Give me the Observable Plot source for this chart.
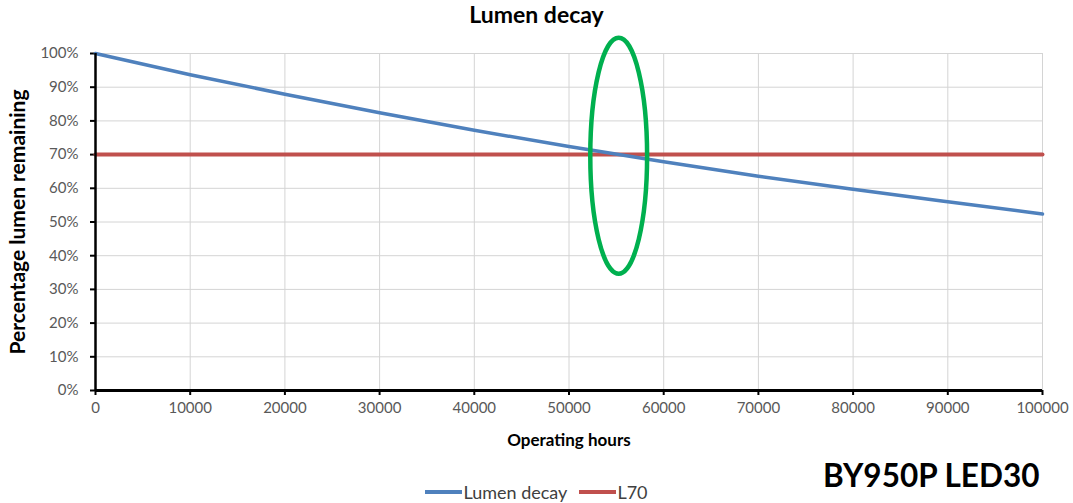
<!DOCTYPE html>
<html>
<head>
<meta charset="utf-8">
<script src="https://cdn.jsdelivr.net/npm/d3@7"></script>
<script src="https://cdn.jsdelivr.net/npm/@observablehq/plot@0.6"></script>
<style>
  html, body { margin: 0; padding: 0; background: #fff; }
  body { width: 1073px; height: 503px; position: relative; overflow: hidden; font-family: Lato, "Open Sans", sans-serif; }
  #title { height: 35px; line-height: 28px; text-align: center; font-weight: bold; font-size: 23px; color: #000; }
  #chart svg { display: block; }
  #legend { position: absolute; top: 478px; left: 0; width: 1073px; text-align: center; font-size: 18px; line-height: 19px; color: #404040; }
  .item { display: inline-flex; align-items: center; margin: 0 6px; }
  .swatch { display: inline-block; width: 37px; height: 4px; margin-right: 1px; }
  #tag { position: absolute; left: 823px; top: 456px; font-weight: bold; font-size: 31.5px; color: #000; font-family: Lato, "Open Sans", sans-serif; }
</style>
</head>
<body>
<div id="title">Lumen decay</div>
<div id="chart"></div>
<div id="legend"></div>
<div id="tag">BY950P LED30</div>
<script>
// ---- data ----
const hours = [0, 10000, 20000, 30000, 40000, 50000, 60000, 70000, 80000, 90000, 100000];
const lumenDecay = [100, 93.7, 87.9, 82.4, 77.2, 72.4, 67.9, 63.6, 59.7, 56.0, 52.4];
const l70 = [70, 70, 70, 70, 70, 70, 70, 70, 70, 70, 70];
const xTicks = [0, 10000, 20000, 30000, 40000, 50000, 60000, 70000, 80000, 90000, 100000];
const yTicks = [0, 10, 20, 30, 40, 50, 60, 70, 80, 90, 100];
const seriesNames = ["Lumen decay", "L70"];
const seriesColors = ["#4F81BD", "#C0504D"];
const highlight = {x: 55300, y: 69.5, rx: 3000, ry: 35}; // annotation ellipse in data units

const decayData = hours.map((h, i) => ({h, v: lumenDecay[i]}));
const l70Data = hours.map((h, i) => ({h, v: l70[i]}));

const ellipseMark = (index, scales) => {
  const cx = scales.x(highlight.x), cy = scales.y(highlight.y);
  const rx = Math.abs(scales.x(highlight.x + highlight.rx) - cx);
  const ry = Math.abs(scales.y(highlight.y + highlight.ry) - cy);
  const g = d3.create("svg:g");
  g.append("ellipse").attr("cx", cx).attr("cy", cy).attr("rx", rx).attr("ry", ry)
    .attr("fill", "none").attr("stroke", "#00B04F").attr("stroke-width", 4.5);
  return g.node();
};

const chart = Plot.plot({
  width: 1073,
  height: 425,
  marginTop: 18,
  marginLeft: 95,
  marginRight: 31,
  marginBottom: 70,
  style: {fontFamily: "Lato, 'Open Sans', sans-serif", fontSize: "15px", color: "#595959", background: "#fff", overflow: "visible"},
  x: {domain: [0, 100000], ticks: xTicks, tickFormat: d => String(d), tickSize: 5, tickPadding: 7, label: null},
  y: {domain: [0, 100], ticks: yTicks, tickFormat: d => d + "%", tickSize: 5, tickPadding: 12, label: null},
  marks: [
    Plot.gridX(xTicks, {stroke: "#d4d4d4", strokeOpacity: 1, strokeWidth: 1}),
    Plot.gridY(yTicks, {stroke: "#d4d4d4", strokeOpacity: 1, strokeWidth: 1}),
    Plot.line(l70Data, {x: "h", y: "v", stroke: seriesColors[1], strokeWidth: 4}),
    Plot.line(decayData, {x: "h", y: "v", stroke: seriesColors[0], strokeWidth: 3.5, curve: "monotone-x"}),
    Plot.ruleX([0], {stroke: "#000", strokeWidth: 2.5}),
    Plot.ruleY([0], {stroke: "#000", strokeWidth: 3}),
    ellipseMark,
    Plot.text(["Percentage lumen remaining"], {frameAnchor: "left", textAnchor: "middle", rotate: -90, dx: -77, fontWeight: "bold", fontSize: 21, fill: "#000"}),
    Plot.text(["Operating hours"], {frameAnchor: "bottom", dy: 55, fontWeight: "bold", fontSize: 17, fill: "#000"})
  ]
});
d3.select(chart).selectAll("[aria-label='x-axis'] line, [aria-label='y-axis'] line, [aria-label='x-axis tick'] path, [aria-label='y-axis tick'] path").attr("stroke", "#000").attr("stroke-width", 2);
d3.select(chart).selectAll("g[aria-label$='axis'] text, g[aria-label$='tick label'] text").attr("fill", "#595959");
document.getElementById("chart").appendChild(chart);

const legend = d3.select("#legend");
seriesNames.forEach((name, i) => {
  const it = legend.append("span").attr("class", "item");
  it.append("span").attr("class", "swatch").style("background", seriesColors[i]);
  it.append("span").text(name);
});
</script>
</body>
</html>
